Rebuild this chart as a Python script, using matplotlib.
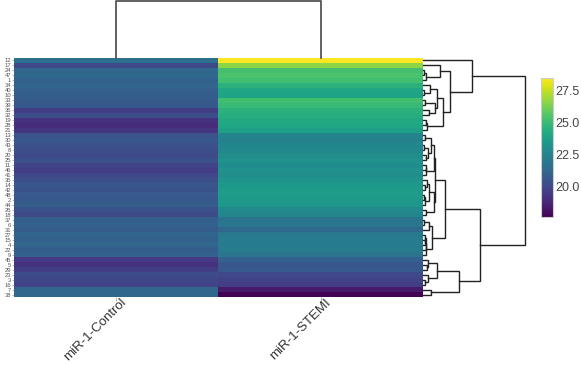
import matplotlib
matplotlib.use("Agg")
import matplotlib.pyplot as plt
from matplotlib.transforms import ScaledTranslation
import numpy as np

# row order as shown in the heatmap (top to bottom)
row_labels = ["12", "17", "24", "47", "1", "34", "40", "10", "33", "39", "36", "32",
              "19", "28", "21", "13", "30", "43", "8", "20", "25", "11", "46", "41",
              "35", "14", "42", "48", "2", "44", "26", "18", "37", "6", "31", "27",
              "15", "4", "22", "9", "45", "5", "29", "23", "3", "16", "7", "38"]
col_labels = ["miR-1-Control", "miR-1-STEMI"]

control_vals = [21.6, 20.0, 21.2, 21.3, 21.0, 21.1, 20.9, 20.8, 20.7, 20.6, 19.6, 20.2,
                19.2, 19.0, 19.3, 20.4, 20.6, 20.3, 20.2, 20.0, 20.3, 19.8, 19.6, 19.9,
                20.2, 20.5, 20.4, 20.7, 20.6, 20.8, 20.3, 20.1, 20.9, 21.0, 20.8, 21.1,
                21.0, 21.2, 20.9, 21.0, 19.4, 19.2, 19.6, 20.1, 19.9, 19.8, 21.2, 21.3]
stemi_vals = [28.5, 26.6, 25.3, 25.4, 25.2, 24.6, 24.0, 23.9, 25.2, 25.0, 24.6, 24.4,
              24.2, 24.0, 23.8, 22.5, 22.4, 22.6, 22.7, 23.0, 23.1, 22.9, 23.1, 23.0,
              23.2, 23.4, 23.6, 23.6, 23.5, 23.4, 22.8, 22.6, 21.8, 21.9, 21.3, 22.0,
              22.2, 22.1, 22.2, 21.9, 21.0, 20.5, 20.6, 20.0, 19.8, 19.6, 18.4, 17.6]

plt.rcParams['font.family'] = ['Liberation Sans', 'DejaVu Sans']

data = np.column_stack([control_vals, stemi_vals])
n_rows = data.shape[0]


def adjacent_linkage(values):
    # complete linkage, but only neighbouring clusters may merge (keeps display order)
    clusters = [dict(members=[i], pos=float(i), height=0.0) for i in range(len(values))]
    links = []
    while len(clusters) > 1:
        best = None
        for k in range(len(clusters) - 1):
            a = values[clusters[k]['members']]
            b = values[clusters[k + 1]['members']]
            d = np.sqrt(((a[:, None, :] - b[None, :, :]) ** 2).sum(-1)).max()
            if best is None or d < best[0]:
                best = (d, k)
        d, k = best
        left, right = clusters[k], clusters[k + 1]
        links.append((left['pos'], left['height'], right['pos'], right['height'], d))
        merged = dict(members=left['members'] + right['members'],
                      pos=(left['pos'] + right['pos']) / 2, height=d)
        clusters[k:k + 2] = [merged]
    return links


W, H = 581, 365
fig = plt.figure(figsize=(W / 100, H / 100), dpi=100)


def box(x0, y0, x1, y1):
    return [x0 / W, 1 - y1 / H, (x1 - x0) / W, (y1 - y0) / H]


ax = fig.add_axes(box(14, 58, 423, 297))
ax_top = fig.add_axes(box(14, 1, 423, 58))
ax_right = fig.add_axes(box(423, 58, 526, 297))
cax = fig.add_axes(box(541, 78, 553, 217))

vmin, vmax = data.min(), data.max()
im = ax.imshow(data, aspect='auto', cmap='viridis', vmin=vmin, vmax=vmax,
               interpolation='nearest')
for s in ax.spines.values():
    s.set_visible(False)
ax.set_xticks(range(len(col_labels)))
ax.set_xticklabels([])
ax.set_yticks(range(n_rows))
ax.set_yticklabels(row_labels, fontsize=4.2, color='#555555')
ax.tick_params(axis='y', length=1.5, width=0.4, pad=0.5, colors='#777777',
               labelcolor='#555555')
ax.tick_params(axis='x', length=3, width=0.5, colors='#999999')

# column labels, slanted, right end just past the column centre
lab_trans = ax.get_xaxis_transform() + ScaledTranslation(0.08, -0.035, fig.dpi_scale_trans)
for i, lab in enumerate(col_labels):
    ax.text(i, 0, lab, transform=lab_trans, rotation=45, ha='right', va='center',
            rotation_mode='anchor', fontsize=9.5, color='#333333')

# row dendrogram on the right
links = adjacent_linkage(data)
root = links[-1][4]
for y1, h1, y2, h2, h in links:
    ax_right.plot([h1, h, h, h2], [y1, y1, y2, y2], color='#222222', lw=1.0,
                  solid_joinstyle='miter', clip_on=False)
ax_right.set_ylim(n_rows - 0.5, -0.5)
ax_right.set_xlim(0, root * 1.01)
ax_right.axis('off')

# column dendrogram on top
col_h = np.sqrt(((data[:, 0] - data[:, 1]) ** 2).sum())
ax_top.plot([0, 0, 1, 1], [0, col_h, col_h, 0], color='#555555', lw=1.3, clip_on=False)
ax_top.set_xlim(-0.5, 1.5)
ax_top.set_ylim(0, col_h * 1.0)
ax_top.axis('off')

cb = fig.colorbar(im, cax=cax, ticks=[20.0, 22.5, 25.0, 27.5], format='%.1f')
cb.outline.set_edgecolor('#cccccc')
cb.outline.set_linewidth(0.8)
cax.tick_params(length=0, pad=2, labelsize=9, labelcolor='#444444')

fig.savefig('out.png', dpi=100)
